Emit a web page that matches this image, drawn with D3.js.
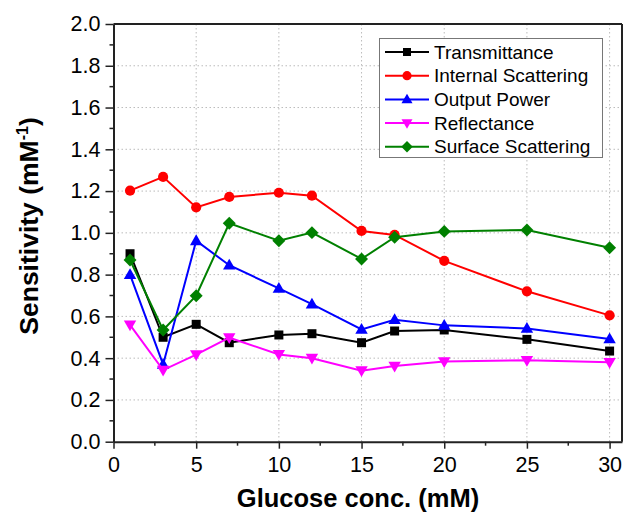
<!DOCTYPE html>
<html>
<head>
<meta charset="utf-8">
<script src="https://cdn.jsdelivr.net/npm/d3@7"></script>
<style>
  body { margin: 0; background: #fff; }
  text { font-family: "Liberation Sans", Arial, sans-serif; fill: #000; }
</style>
</head>
<body>
<div id="chart"></div>
<script>
// glucose concentrations (mM)
const glucose = [1, 3, 5, 7, 10, 12, 15, 17, 20, 25, 30];

// sensitivity values (mM^-1)
const transmittance = [0.90, 0.50, 0.562, 0.474, 0.511, 0.517, 0.474, 0.530, 0.535, 0.490, 0.434];
const internalScattering = [1.202, 1.268, 1.122, 1.172, 1.192, 1.178, 1.009, 0.990, 0.866, 0.720, 0.605];
const outputPower = [0.80, 0.37, 0.962, 0.845, 0.734, 0.659, 0.538, 0.584, 0.557, 0.542, 0.492];
const reflectance = [0.559, 0.343, 0.417, 0.498, 0.418, 0.400, 0.340, 0.362, 0.384, 0.390, 0.380];
const surfaceScattering = [0.870, 0.535, 0.699, 1.046, 0.962, 1.001, 0.875, 0.979, 1.007, 1.014, 0.929];

const seriesNames = ['Transmittance', 'Internal Scattering', 'Output Power', 'Reflectance', 'Surface Scattering'];
const seriesColors = ['#000000', '#ff0000', '#0000ff', '#ff00ff', '#008000'];

const xTicks = [0, 5, 10, 15, 20, 25, 30];
const yTicks = [0.0, 0.2, 0.4, 0.6, 0.8, 1.0, 1.2, 1.4, 1.6, 1.8, 2.0];

const series = [
  { name: seriesNames[0], values: transmittance, color: seriesColors[0], symbol: 'square' },
  { name: seriesNames[1], values: internalScattering, color: seriesColors[1], symbol: 'circle' },
  { name: seriesNames[2], values: outputPower, color: seriesColors[2], symbol: 'up' },
  { name: seriesNames[3], values: reflectance, color: seriesColors[3], symbol: 'down' },
  { name: seriesNames[4], values: surfaceScattering, color: seriesColors[4], symbol: 'diamond' }
];

const width = 627, height = 512;
const plot = { left: 113.5, right: 622, top: 24, bottom: 441.7 };

const svg = d3.select('#chart')
  .append('svg')
    .attr('width', width)
    .attr('height', height);

const x = d3.scaleLinear().domain([0, 30.75]).range([plot.left, plot.right]);
const y = d3.scaleLinear().domain([0, 2]).range([plot.bottom, plot.top]);

// Grid lines
const grid = svg.append('g');
grid.selectAll('.gx')
  .data(xTicks.filter(d => d > 0))
  .enter()
  .append('line')
    .attr('x1', d => x(d)).attr('x2', d => x(d))
    .attr('y1', plot.top).attr('y2', plot.bottom)
    .attr('stroke', '#bbb').attr('stroke-width', 1)
    .attr('stroke-dasharray', '1.5,2.5');
grid.selectAll('.gy')
  .data(yTicks.filter(d => d > 0 && d < 2))
  .enter()
  .append('line')
    .attr('x1', plot.left).attr('x2', plot.right)
    .attr('y1', d => y(d)).attr('y2', d => y(d))
    .attr('stroke', '#bbb').attr('stroke-width', 1)
    .attr('stroke-dasharray', '1.5,2.5');

// Frame (top and right)
svg.append('line')
  .attr('x1', plot.left).attr('x2', plot.right)
  .attr('y1', plot.top).attr('y2', plot.top)
  .attr('stroke', '#222').attr('stroke-width', 2);
svg.append('line')
  .attr('x1', plot.right).attr('x2', plot.right)
  .attr('y1', plot.top).attr('y2', plot.bottom)
  .attr('stroke', '#222').attr('stroke-width', 2);

// Minor ticks
const minorX = d3.range(2.5, 31, 5);
const minorY = d3.range(0.1, 2, 0.2);
svg.append('g').selectAll('line')
  .data(minorX).enter().append('line')
    .attr('x1', d => x(d)).attr('x2', d => x(d))
    .attr('y1', plot.bottom).attr('y2', plot.bottom + 4)
    .attr('stroke', '#222').attr('stroke-width', 1.5);
svg.append('g').selectAll('line')
  .data(minorY).enter().append('line')
    .attr('x1', plot.left - 4).attr('x2', plot.left)
    .attr('y1', d => y(d)).attr('y2', d => y(d))
    .attr('stroke', '#222').attr('stroke-width', 1.5);

// X axis
const xAxis = svg.append('g')
  .attr('transform', 'translate(0,' + plot.bottom + ')')
  .call(d3.axisBottom(x).tickValues(xTicks).tickSizeInner(7).tickSizeOuter(0).tickPadding(8));
xAxis.select('.domain').attr('stroke', '#222').attr('stroke-width', 2);
xAxis.selectAll('.tick line').attr('stroke', '#222').attr('stroke-width', 1.5);
xAxis.selectAll('.tick text').attr('font-size', 21.5).attr('font-family', '"Liberation Sans", Arial, sans-serif').attr('fill', '#000');

// Y axis
const yAxis = svg.append('g')
  .attr('transform', 'translate(' + plot.left + ',0)')
  .call(d3.axisLeft(y).tickValues(yTicks).tickFormat(d3.format('.1f')).tickSizeInner(8).tickSizeOuter(0).tickPadding(5));
yAxis.select('.domain').attr('stroke', '#222').attr('stroke-width', 2);
yAxis.selectAll('.tick line').attr('stroke', '#222').attr('stroke-width', 1.5);
yAxis.selectAll('.tick text').attr('font-size', 21.5).attr('font-family', '"Liberation Sans", Arial, sans-serif').attr('fill', '#000');

// Symbol drawing
function drawSymbol(sel, symbol, color, size) {
  if (symbol === 'square') {
    sel.append('rect')
      .attr('x', -size / 2).attr('y', -size / 2)
      .attr('width', size).attr('height', size)
      .attr('fill', color);
  } else if (symbol === 'circle') {
    sel.append('circle').attr('r', size / 2 + 0.6).attr('fill', color);
  } else if (symbol === 'up') {
    const s = size * 1.15;
    sel.append('path')
      .attr('d', `M0,${-s * 0.62}L${s * 0.6},${s * 0.42}L${-s * 0.6},${s * 0.42}Z`)
      .attr('fill', color);
  } else if (symbol === 'down') {
    const s = size * 1.15;
    sel.append('path')
      .attr('d', `M0,${s * 0.62}L${s * 0.6},${-s * 0.42}L${-s * 0.6},${-s * 0.42}Z`)
      .attr('fill', color);
  } else if (symbol === 'diamond') {
    const s = size * 0.72;
    sel.append('path')
      .attr('d', `M0,${-s}L${s},0L0,${s}L${-s},0Z`)
      .attr('fill', color);
  }
}

// Lines and markers
const line = d3.line()
  .x(d => x(d[0]))
  .y(d => y(d[1]));

series.forEach(s => {
  const pts = glucose.map((g, i) => [g, s.values[i]]);
  const g = svg.append('g');
  g.append('path')
    .datum(pts)
    .attr('fill', 'none')
    .attr('stroke', s.color)
    .attr('stroke-width', 2)
    .attr('d', line);
  g.selectAll('.pt')
    .data(pts)
    .enter()
    .append('g')
      .attr('transform', d => 'translate(' + x(d[0]) + ',' + y(d[1]) + ')')
      .each(function () { drawSymbol(d3.select(this), s.symbol, s.color, 9); });
});

// Legend
const legend = svg.append('g');
legend.append('rect')
  .attr('x', 379.5).attr('y', 38.5)
  .attr('width', 223).attr('height', 119)
  .attr('fill', '#fff')
  .attr('stroke', '#777').attr('stroke-width', 1);

series.forEach((s, i) => {
  const ly = 52 + i * 23.7;
  const row = legend.append('g');
  row.append('line')
    .attr('x1', 385).attr('x2', 429)
    .attr('y1', ly).attr('y2', ly)
    .attr('stroke', s.color).attr('stroke-width', 2);
  const m = row.append('g').attr('transform', 'translate(407,' + ly + ')');
  drawSymbol(m, s.symbol, s.color, 8);
  row.append('text')
    .attr('x', 434).attr('y', ly + 6.5)
    .attr('font-size', 19)
    .text(s.name);
});

// Axis titles
svg.append('text')
  .attr('x', 358).attr('y', 507)
  .attr('text-anchor', 'middle')
  .attr('font-size', 25.5)
  .attr('font-weight', 'bold')
  .text('Glucose conc. (mM)');

const yTitle = svg.append('text')
  .attr('transform', 'translate(38,226) rotate(-90)')
  .attr('text-anchor', 'middle')
  .attr('font-size', 26.5)
  .attr('font-weight', 'bold');
yTitle.append('tspan').text('Sensitivity (mM');
yTitle.append('tspan').attr('font-size', 16).attr('dy', -10).text('-1');
yTitle.append('tspan').attr('dy', 10).text(')');
</script>
</body>
</html>
